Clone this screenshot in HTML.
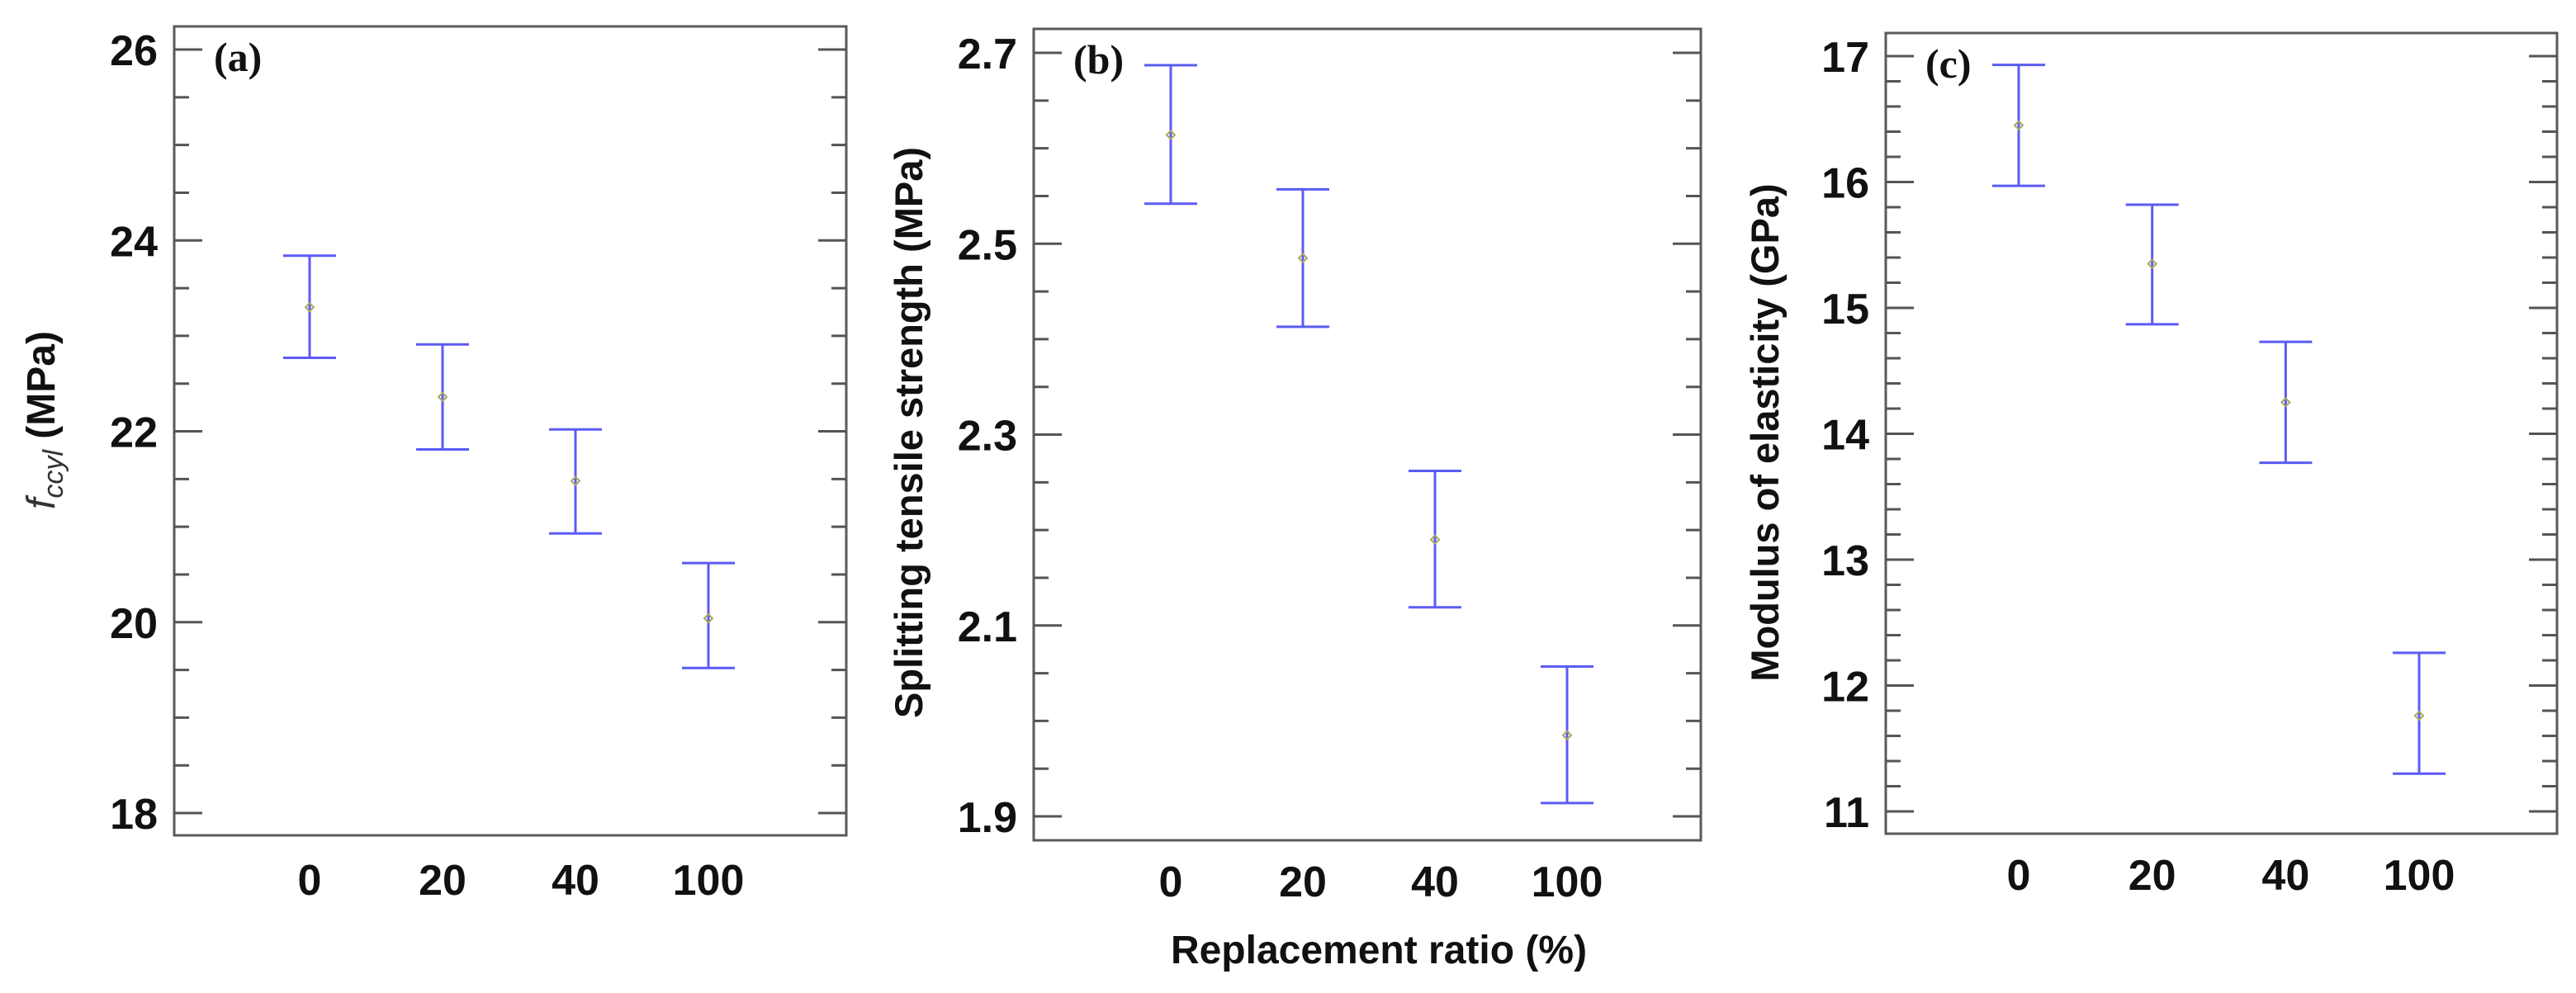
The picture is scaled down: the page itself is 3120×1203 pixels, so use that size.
<!DOCTYPE html>
<html><head><meta charset="utf-8"><style>
html,body{margin:0;padding:0;background:#fff;}
svg{display:block;}
text{font-family:"Liberation Sans",Arial,sans-serif;}
</style></head><body>
<svg id="chart" width="3120" height="1203" viewBox="0 0 3120 1203" xmlns="http://www.w3.org/2000/svg"></svg>
<script>
const categories = ["0","20","40","100"];
// panel (a)
const aMean = [23.30, 22.36, 21.48, 20.04];
const aUpper = [23.84, 22.91, 22.02, 20.62];
const aLower = [22.77, 21.81, 20.93, 19.52];
const aTicks = [18, 20, 22, 24, 26];
// panel (b)
const bMean = [2.614, 2.485, 2.190, 1.985];
const bUpper = [2.687, 2.557, 2.262, 2.057];
const bLower = [2.542, 2.413, 2.119, 1.914];
const bTicks = [1.9, 2.1, 2.3, 2.5, 2.7];
// panel (c)
const cMean = [16.45, 15.35, 14.25, 11.76];
const cUpper = [16.93, 15.82, 14.73, 12.26];
const cLower = [15.97, 14.87, 13.77, 11.30];
const cTicks = [11, 12, 13, 14, 15, 16, 17];

const NS = "http://www.w3.org/2000/svg";
const svg = document.getElementById("chart");
function mk(tag, attrs, parent){
  const e = document.createElementNS(NS, tag);
  for (const k in attrs) e.setAttribute(k, attrs[k]);
  (parent||svg).appendChild(e);
  return e;
}

function panel(p){
  const g = mk("g", {});
  
  
  const y = v => p.y0 + (v - p.vmin) / (p.vmax - p.vmin) * (p.y1 - p.y0);
  const x = i => p.xs[0] + i * (p.xs[1] - p.xs[0]) / 3;
  const box = mk("rect", {x:p.left, y:p.top, width:p.right-p.left, height:p.bottom-p.top, fill:"none", stroke:"#5a5a5a", "stroke-width":3}, g);
  
  
  const lo = p.ticks[0], hi = p.ticks[p.ticks.length-1];
  const nMinor = Math.round((hi - lo) / p.minor);
  for (let k = 0; k <= nMinor; k++){
    const v = lo + k * p.minor;
    const yy = y(v);
    const major = p.ticks.some(t => Math.abs(t - v) < 1e-6);
    const len = major ? 34 : 18;
    const t1 = mk("line", {x1:p.left, x2:p.left+len, y1:yy, y2:yy, stroke:"#555", "stroke-width":3}, g);
    
    
    const t2 = mk("line", {x1:p.right, x2:p.right-len, y1:yy, y2:yy, stroke:"#555", "stroke-width":3}, g);
    
    
  }
  p.ticks.forEach(t => {
    const tx = mk("text", {x:p.left-20, y:y(t)+19, "text-anchor":"end", "font-size":52, "font-weight":"bold", fill:"#111"}, g);
    tx.textContent = p.fmt(t);
    
    
  });
  categories.forEach((c, i) => {
    const tx = mk("text", {x:x(i), y:p.xLabelY, "text-anchor":"middle", "font-size":52, "font-weight":"bold", fill:"#111"}, g);
    tx.textContent = c;
    
    
    const eb = mk("g", {stroke:"#5b5bf5", "stroke-width":3, fill:"none"}, g);
    
    
    mk("line", {x1:x(i), x2:x(i), y1:y(p.upper[i]), y2:y(p.lower[i])}, eb);
    mk("line", {x1:x(i)-32, x2:x(i)+32, y1:y(p.upper[i]), y2:y(p.upper[i])}, eb);
    mk("line", {x1:x(i)-32, x2:x(i)+32, y1:y(p.lower[i]), y2:y(p.lower[i])}, eb);
    const my = y(p.mean[i]), mx = x(i);
    const m = mk("path", {d:`M${mx-5},${my} L${mx},${my-5} L${mx+5},${my} L${mx},${my+5} Z`, fill:"none", stroke:"#a8a860", "stroke-width":2}, g);
    
    
  });
  const lab = mk("text", {x:p.left+48, y:p.top+54, "font-size":50, "font-weight":"bold", fill:"#111", style:"font-family:'Liberation Serif',serif"}, g);
  lab.textContent = p.label;
  
  
  return {g, y};
}

const pa = panel({name:"panel-a", left:211, right:1025, top:32, bottom:1012, vmin:18, vmax:26, y0:985, y1:60,
  xs:[375,858], ticks:aTicks, minor:0.5, fmt:v=>String(v), mean:aMean, upper:aUpper, lower:aLower, xLabelY:1084, label:"(a)"});
const pb = panel({name:"panel-b", left:1252, right:2060, top:35, bottom:1018, vmin:1.9, vmax:2.7, y0:989, y1:64,
  xs:[1418,1898], ticks:bTicks, minor:0.05, fmt:v=>v.toFixed(1), mean:bMean, upper:bUpper, lower:bLower, xLabelY:1086, label:"(b)"});
const pc = panel({name:"panel-c", left:2284, right:3097, top:40, bottom:1010, vmin:11, vmax:17, y0:983, y1:68,
  xs:[2445,2930], ticks:cTicks, minor:0.2, fmt:v=>String(v), mean:cMean, upper:cUpper, lower:cLower, xLabelY:1078, label:"(c)"});

let t = mk("text", {transform:"translate(66,509) rotate(-90)", "text-anchor":"middle", "font-size":48, fill:"#333"});
t.innerHTML = '<tspan font-style="italic">f</tspan><tspan font-style="italic" font-size="34" dy="10">ccyl</tspan><tspan dy="-10" font-weight="bold" fill="#111"> (MPa)</tspan>';



t = mk("text", {transform:"translate(1117,524) rotate(-90)", "text-anchor":"middle", "font-size":47, "font-weight":"bold", fill:"#111"});
t.textContent = "Splitting tensile strength (MPa)";



t = mk("text", {transform:"translate(2154,524) rotate(-90)", "text-anchor":"middle", "font-size":47, "font-weight":"bold", fill:"#111"});
t.textContent = "Modulus of elasticity (GPa)";



t = mk("text", {x:1670, y:1167, "text-anchor":"middle", "font-size":48, "font-weight":"bold", fill:"#111"});
t.textContent = "Replacement ratio (%)";


</script>
</body></html>
